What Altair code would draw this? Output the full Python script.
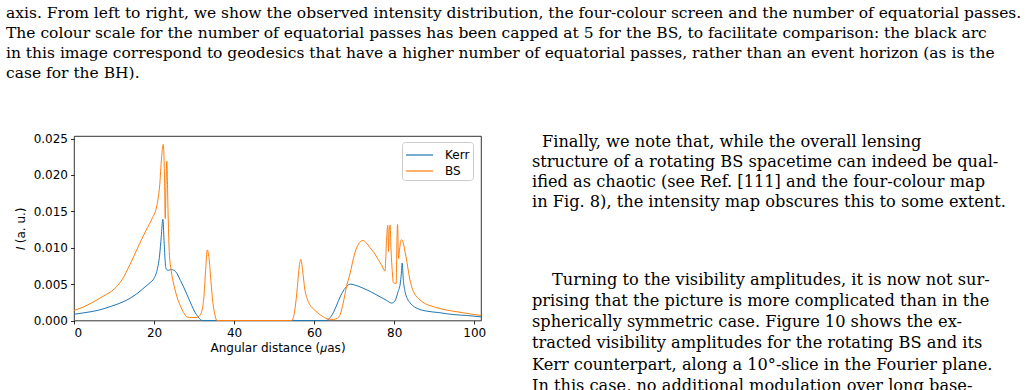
import altair as alt
import pandas as pd

# Intensity profiles along the slice: angular distance (µas) and intensity (a. u.)
kerr_x = [0, 3, 6, 9, 12, 14, 16, 17.5, 19, 20, 20.8, 21.4, 21.8, 22.2, 22.5, 22.8,
          23.1, 23.6, 24.3, 25.0, 25.8, 26.6, 27.4, 28.2, 29.0, 29.8, 30.6, 31.3,
          32.0, 40, 50, 60, 63, 64, 65, 66, 67, 68, 69, 70, 72, 74, 76, 78, 79.4,
          80.2, 81.0, 81.5, 81.8, 82.0, 82.3, 82.7, 83.3, 84.0, 85.0, 86.0, 88.0,
          91.0, 95.0, 98.0, 101.7]
kerr_y = [0.00085, 0.0011, 0.0014, 0.0019, 0.0025, 0.00305, 0.0038, 0.0045, 0.0052,
          0.0058, 0.0070, 0.0090, 0.0115, 0.0139, 0.0110, 0.0080, 0.0070, 0.0069,
          0.0070, 0.0069, 0.0064, 0.0055, 0.0046, 0.0036, 0.0026, 0.0016, 0.0008,
          0.0003, 0.0, 0.0, 0.0, 0.0, 0.0, 0.0004, 0.0013, 0.0026, 0.0038, 0.0046,
          0.0050, 0.0049, 0.0045, 0.0040, 0.0034, 0.0028, 0.0024, 0.0027, 0.0040,
          0.0050, 0.0065, 0.0079, 0.0055, 0.0040, 0.0030, 0.0024, 0.0019, 0.0016,
          0.0013, 0.0011, 0.0008, 0.0007, 0.0005]

bs_x = [0, 2.5, 5, 7.5, 10, 12, 14, 16, 18, 19.5, 20.7, 21.4, 21.9, 22.3, 22.6, 22.8,
        23.0, 23.2, 23.5, 23.8, 24.3, 24.8, 25.6, 26.5, 27.4, 28.2, 29.4, 30.5, 31.3,
        32.0, 32.5, 32.9, 33.3, 33.7, 34.2, 34.7, 35.2, 35.7, 40, 50, 54.4, 55.2,
        55.8, 56.3, 56.7, 57.1, 57.7, 58.4, 59.0, 60.0, 61.0, 62.3, 63.5, 64.8, 65.8,
        66.5, 67.3, 68.2, 69.0, 69.8, 70.7, 71.5, 72.2, 73.0, 74.0, 75.0, 76.0, 77.0,
        77.7, 78.1, 78.4, 78.6, 78.8, 79.0, 79.2, 79.5, 79.8, 80.5, 80.7, 80.85,
        81.1, 81.4, 81.8, 82.2, 82.7, 83.2, 83.8, 84.4, 85.2, 86.1, 87.5, 89.8, 92.5,
        95.7, 99.0, 101.7]
bs_y = [0.00137, 0.0019, 0.0026, 0.0034, 0.0043, 0.0056, 0.0077, 0.0101, 0.0124,
        0.0140, 0.0158, 0.0185, 0.0225, 0.0242, 0.0200, 0.0140, 0.0190, 0.0219,
        0.0150, 0.0095, 0.0068, 0.0053, 0.0035, 0.0021, 0.0011, 0.0005, 0.0004,
        0.0004, 0.0006, 0.0014, 0.0035, 0.0070, 0.0097, 0.0088, 0.0055, 0.0025,
        0.0008, 0.0, 0.0, 0.0, 0.0, 0.0015, 0.0045, 0.0075, 0.0084, 0.0070, 0.0042,
        0.0028, 0.0021, 0.0015, 0.0010, 0.0005, 0.0002, 0.00015, 0.0003, 0.0008,
        0.0025, 0.0049, 0.0065, 0.0085, 0.0101, 0.0108, 0.0110, 0.0107, 0.0100,
        0.0093, 0.0084, 0.0075, 0.0068, 0.0110, 0.0131, 0.0095, 0.0125, 0.0131,
        0.0100, 0.0070, 0.0052, 0.0051, 0.0110, 0.0132, 0.0085, 0.0100, 0.0111,
        0.0108, 0.0095, 0.0080, 0.0060, 0.0046, 0.0036, 0.0030, 0.0024, 0.0019,
        0.0015, 0.0012, 0.0009, 0.0007]

series_names = ["Kerr", "BS"]
series_colors = ["#1f77b4", "#ff7f0e"]

x_ticks = [0, 20, 40, 60, 80, 100]
y_ticks = [0.0, 0.005, 0.010, 0.015, 0.020, 0.025]

# Surrounding page text
caption_lines = [
    "axis. From left to right, we show the observed intensity distribution, the four-colour screen and the number of equatorial passes.",
    "The colour scale for the number of equatorial passes has been capped at 5 for the BS, to facilitate comparison: the black arc",
    "in this image correspond to geodesics that have a higher number of equatorial passes, rather than an event horizon (as is the",
    "case for the BH).",
]
para1_lines = [
    "Finally, we note that, while the overall lensing",
    "structure of a rotating BS spacetime can indeed be qual-",
    "ified as chaotic (see Ref. [111] and the four-colour map",
    "in Fig. 8), the intensity map obscures this to some extent.",
]
para2_lines = [
    "Turning to the visibility amplitudes, it is now not sur-",
    "prising that the picture is more complicated than in the",
    "spherically symmetric case.  Figure 10 shows the ex-",
    "tracted visibility amplitudes for the rotating BS and its",
    "Kerr counterpart, along a 10°-slice in the Fourier plane.",
    "In this case, no additional modulation over long base-",
]

PLOT_W, PLOT_H = 407, 184.5
LEFT, TOP = 74, 136

kerr_df = pd.DataFrame({"x": kerr_x, "y": kerr_y, "series": "Kerr"})
bs_df = pd.DataFrame({"x": bs_x, "y": bs_y, "series": "BS"})

x_enc = alt.X(
    "x:Q",
    scale=alt.Scale(domain=[0, 101.7], nice=False, zero=False),
    axis=alt.Axis(values=x_ticks, format="d", title="Angular distance (\U0001D707as)"),
)
y_enc = alt.Y(
    "y:Q",
    scale=alt.Scale(domain=[0, 0.02536], nice=False),
    axis=alt.Axis(values=y_ticks, format=".3f", title="\U0001D43C (a. u.)"),
)
color_enc = alt.Color(
    "series:N",
    scale=alt.Scale(domain=series_names, range=series_colors),
    legend=alt.Legend(
        title=None,
        orient="none",
        legendX=328,
        legendY=6,
        # short horizontal line sample, wider than the entry height
        symbolType="M-1,0H2",
        symbolSize=324,
        symbolStrokeWidth=1.2,
        labelFont="DejaVu Sans",
        labelFontSize=12,
        labelColor="#000000",
        labelOffset=20,
        padding=3,
        rowPadding=0,
        fillColor="rgba(255,255,255,0.8)",
        strokeColor="#cccccc",
        cornerRadius=3,
    ),
)

kerr_line = alt.Chart(kerr_df).mark_line(strokeWidth=1, interpolate="monotone").encode(
    x=x_enc, y=y_enc, color=color_enc
)
bs_line = alt.Chart(bs_df).mark_line(strokeWidth=1, interpolate="monotone").encode(
    x=x_enc, y=y_enc, color=color_enc
)


def text_block(lines, left, first_baseline, leading, size):
    df = pd.DataFrame({"text": lines, "row": list(range(len(lines)))})
    return (
        alt.Chart(df)
        .transform_calculate(py=f"{first_baseline - TOP} + datum.row * {leading}")
        .mark_text(
            align="left",
            baseline="alphabetic",
            font="DejaVu Serif",
            fontSize=size,
            color="#000000",
        )
        .encode(x=alt.value(left - LEFT), y=alt.Y("py:Q", scale=None), text="text:N")
    )


caption = text_block(caption_lines, 6, 17.5, 20, 15.5)
para1 = text_block(para1_lines[:1], 542, 146.5, 20, 16.2)
para1b = text_block(para1_lines[1:], 532, 166.5, 20, 16.2)
para2 = text_block(para2_lines[:1], 552, 284.5, 21.3, 16.2)
para2b = text_block(para2_lines[1:], 532, 305.8, 21.3, 16.2)

chart = (
    alt.layer(kerr_line, bs_line, caption, para1, para1b, para2, para2b)
    .properties(
        width=PLOT_W,
        height=PLOT_H,
        autosize=alt.AutoSizeParams(type="none"),
        padding={"left": LEFT, "top": TOP, "right": 1028 - LEFT - PLOT_W,
                 "bottom": 390 - TOP - PLOT_H},
        background="#ffffff",
    )
    .configure_view(stroke="#000000", strokeWidth=0.8)
    .configure_axis(
        domain=False,
        ticks=True,
        tickSize=3.5,
        tickWidth=0.8,
        tickColor="#000000",
        labelFont="DejaVu Sans",
        labelFontSize=12,
        labelColor="#000000",
        labelPadding=3,
        titleFont="DejaVu Sans",
        titleFontSize=12,
        titleFontWeight="normal",
        titleColor="#000000",
        grid=False,
    )
    .configure_axisX(titlePadding=4)
    .configure_axisY(titlePadding=6)
)

chart.save("out.html", embed_options={"renderer": "svg", "actions": False})
